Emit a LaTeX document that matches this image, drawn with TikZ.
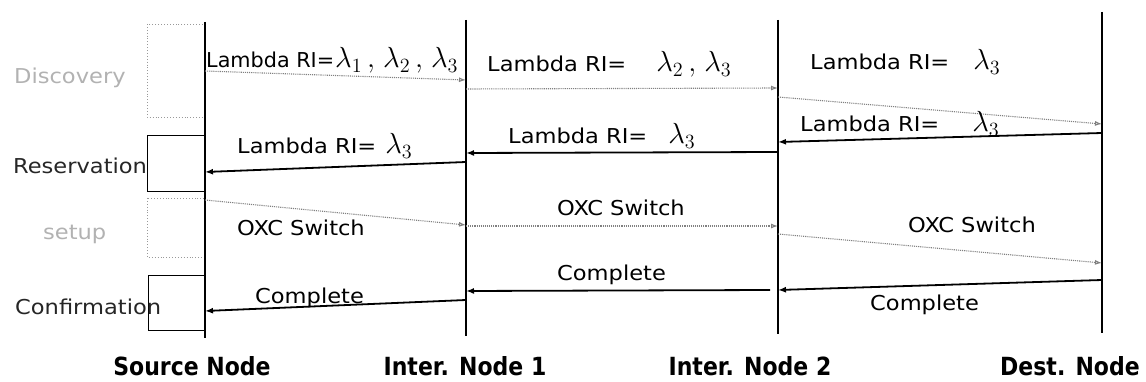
\documentclass[tikz,border=0pt]{standalone}
\usepackage{fontspec}
\usetikzlibrary{arrows.meta}
\newfontfamily\lblfont[FakeStretch=1.1]{DejaVu Sans}
\newfontfamily\botfont[FakeStretch=0.88]{DejaVu Sans}
\newcommand\lam[1]{\scalebox{1.4}{$\lambda_{#1}$}}
\newcommand\cm{\scalebox{1.4}{$\,,\;$}}
\tikzset{
  msg/.style={font=\lblfont\fontsize{20.5}{24}\selectfont, inner sep=0pt, anchor=base west},
  phase/.style={font=\lblfont\fontsize{20.5}{24}\selectfont, inner sep=0pt, anchor=base west},
  faint/.style={text=black!30},
  dark/.style={text=black!85},
  bot/.style={font=\botfont\bfseries\fontsize{25}{28}\selectfont, inner sep=0pt, anchor=base},
  life/.style={line width=1.3pt, black},
  req/.style={draw=black!50, densely dotted, line width=1.1pt, -{Latex[open,length=7pt,width=5pt]}},
  rep/.style={draw=black, line width=1.8pt, -{Latex[length=8pt,width=6pt]}},
  dbox/.style={draw=black!40, dotted, line width=0.9pt},
  sbox/.style={draw=black, line width=1pt},
}
\begin{document}
\begin{tikzpicture}[x=1pt,y=-1pt]
\useasboundingbox (0,0) rectangle (1146,382);
% lifelines
\coordinate (Stop) at (205,22);  \coordinate (Sbot) at (205,338);
\coordinate (Atop) at (466,20);  \coordinate (Abot) at (466,336);
\coordinate (Btop) at (778,20);  \coordinate (Bbot) at (778,334);
\coordinate (Dtop) at (1102,12); \coordinate (Dbot) at (1102,333);
% phase boxes
\draw[dbox] (147,24) rectangle (205,117);
\draw[sbox] (147,136) rectangle (205,192);
\draw[dbox] (147,198) rectangle (205,257);
\draw[sbox] (148,275) rectangle (205,330);
\draw[life] (Stop) -- (Sbot);
\draw[life] (Atop) -- (Abot);
\draw[life] (Btop) -- (Bbot);
\draw[life] (Dtop) -- (Dbot);
% phase labels
\node[phase,faint] (pDisc) at (14,84) {Discovery};
\node[phase,dark] (pRes) at (13,174) {Reservation};
\node[phase,faint] (pSet) at (43,240) {setup};
\node[phase,dark] (pConf) at (15,314) {Confirmation};
% discovery
\coordinate (d1s) at (205,71);  \coordinate (d1e) at (466,80);
\coordinate (d2s) at (466,89);  \coordinate (d2e) at (778,88);
\coordinate (d3s) at (778,97);  \coordinate (d3e) at (1102,124);
\draw[req] (d1s) -- (d1e);
\draw[req] (d2s) -- (d2e);
\draw[req] (d3s) -- (d3e);
\node[msg] (m1) at (206,68) {\scalebox{0.92}[1]{Lambda RI=}\hspace{1pt}\lam{1}\cm\lam{2}\cm\lam{3}};
\node[msg] (m2) at (487,72) {Lambda RI=\hspace{30pt}\lam{2}\cm\lam{3}};
\node[msg] (m3) at (810,70) {Lambda RI=\hspace{24pt}\lam{3}};
% reservation
\coordinate (r1s) at (1102,133); \coordinate (r1e) at (778,142);
\coordinate (r2s) at (778,152);  \coordinate (r2e) at (466,153);
\coordinate (r3s) at (466,162);  \coordinate (r3e) at (205,172);
\draw[rep] (r1s) -- (r1e);
\draw[rep] (r2s) -- (r2e);
\draw[rep] (r3s) -- (r3e);
\node[msg] (m4) at (800,132) {Lambda RI=\hspace{33pt}\lam{3}};
\node[msg] (m5) at (508,144) {Lambda RI=\hspace{21pt}\lam{3}};
\node[msg] (m6) at (237,154) {Lambda RI=\hspace{9pt}\lam{3}};
% setup
\coordinate (s1s) at (205,200); \coordinate (s1e) at (466,225);
\coordinate (s2s) at (466,226); \coordinate (s2e) at (778,226);
\coordinate (s3s) at (778,234); \coordinate (s3e) at (1102,263);
\draw[req] (s1s) -- (s1e);
\draw[req] (s2s) -- (s2e);
\draw[req] (s3s) -- (s3e);
\node[msg] (o1) at (237,236) {OXC Switch};
\node[msg] (o2) at (557,216) {OXC Switch};
\node[msg] (o3) at (908,233) {OXC Switch};
% confirmation
\coordinate (c1s) at (1102,280); \coordinate (c1e) at (778,290);
\coordinate (c2s) at (770,290);  \coordinate (c2e) at (466,291);
\coordinate (c3s) at (466,300);  \coordinate (c3e) at (205,311);
\draw[rep] (c1s) -- (c1e);
\draw[rep] (c2s) -- (c2e);
\draw[rep] (c3s) -- (c3e);
\node[msg] (k1) at (255,303) {Complete};
\node[msg] (k2) at (557,280) {Complete};
\node[msg] (k3) at (870,310) {Complete};
% bottom labels
\node[bot] (nS) at (192,375) {Source Node};
\node[bot] (nA) at (465,375) {Inter. Node 1};
\node[bot] (nB) at (750,375) {Inter. Node 2};
\node[bot] (nD) at (1070,375) {Dest. Node};
\end{tikzpicture}
\end{document}
